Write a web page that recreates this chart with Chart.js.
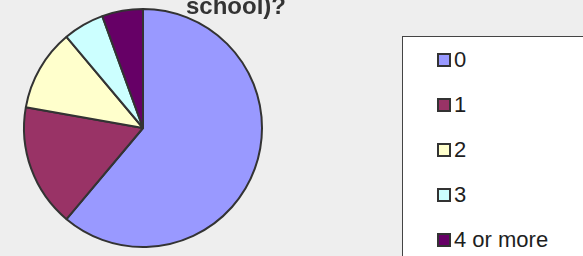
<!DOCTYPE html>
<html>
<head>
<meta charset="utf-8">
<script src="https://cdn.jsdelivr.net/npm/chart.js@4.4.0/dist/chart.umd.min.js"></script>
<style>
  html, body { margin: 0; padding: 0; background: #eeeeee; }
  #wrap { position: relative; width: 583px; height: 256px; overflow: hidden; }
  #c { position: absolute; left: 0; top: 0; }
  #legend {
    position: absolute; left: 402px; top: 36px; width: 200px; height: 240px;
    background: #ffffff; border: 1px solid #444; box-sizing: border-box;
    font-family: "Liberation Sans", Arial, sans-serif; font-size: 22px; color: #1e1e1e;
  }
  .item { position: absolute; left: 34px; height: 22px; display: flex; align-items: center; }
  .sw { width: 10px; height: 10px; border: 2px solid #333; margin-right: 3px; }
</style>
</head>
<body>
<div id="wrap">
  <canvas id="c" width="583" height="256"></canvas>
  <div id="legend"></div>
</div>
<script>
const titleLines = ["school)?"];
const categories = ["0", "1", "2", "3", "4 or more"];
const counts = [33, 9, 6, 3, 3];
const colors = ["#9999ff", "#993366", "#ffffcc", "#ccffff", "#660066"];

const titlePlugin = {
  id: 'cutTitle',
  afterDraw(chart) {
    const ctx = chart.ctx;
    ctx.save();
    ctx.font = 'bold 24px "Liberation Sans", Arial, sans-serif';
    ctx.fillStyle = '#333333';
    ctx.textAlign = 'center';
    ctx.textBaseline = 'alphabetic';
    ctx.fillText(titleLines[titleLines.length - 1], 236, 14);
    ctx.restore();
  }
};

new Chart(document.getElementById('c'), {
  type: 'pie',
  data: {
    labels: categories,
    datasets: [{
      data: counts,
      backgroundColor: colors,
      borderColor: '#333333',
      borderWidth: 2
    }]
  },
  options: {
    responsive: false,
    animation: false,
    layout: { padding: { left: 23, right: 320, top: 8, bottom: 8 } },
    plugins: { legend: { display: false }, tooltip: { enabled: false }, title: { display: false } }
  },
  plugins: [titlePlugin]
});

const legend = document.getElementById('legend');
categories.forEach((label, i) => {
  const row = document.createElement('div');
  row.className = 'item';
  row.style.top = (12 + i * 45) + 'px';
  const sw = document.createElement('span');
  sw.className = 'sw';
  sw.style.background = colors[i];
  const tx = document.createElement('span');
  tx.textContent = label;
  row.appendChild(sw);
  row.appendChild(tx);
  legend.appendChild(row);
});
</script>
</body>
</html>
